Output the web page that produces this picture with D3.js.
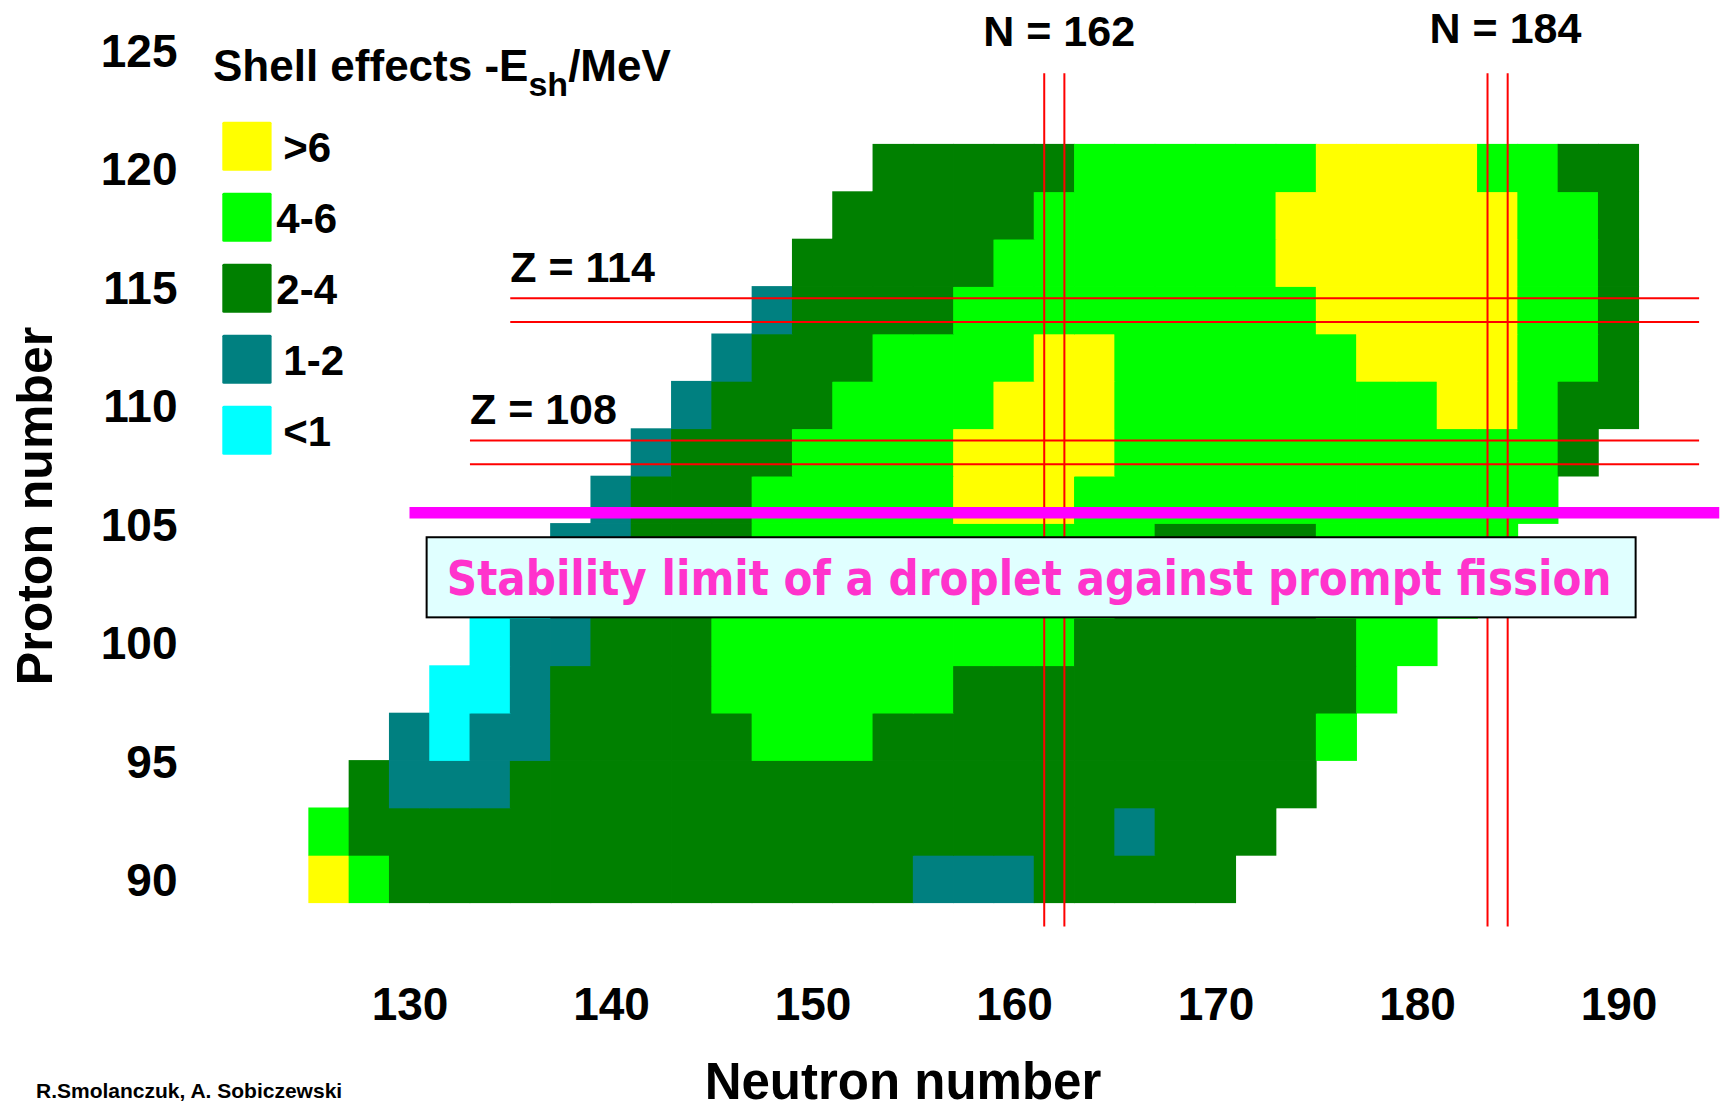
<!DOCTYPE html>
<html>
<head>
<meta charset="utf-8">
<title>Shell effects of superheavy nuclei</title>
<script src="https://cdn.jsdelivr.net/npm/d3@7"></script>
<style>
  html, body { margin: 0; padding: 0; background: #ffffff; }
  svg { display: block; }
  text { font-family: "Liberation Sans", Arial, sans-serif; font-weight: bold; fill: #000; }
</style>
</head>
<body>
<svg id="chart" width="1727" height="1109"></svg>
<script>
// Even neutron numbers, one column each (left to right)
const neutrons = [126, 128, 130, 132, 134, 136, 138, 140, 142, 144, 146,
                  148, 150, 152, 154, 156, 158, 160, 162, 164, 166, 168,
                  170, 172, 174, 176, 178, 180, 182, 184, 186, 188, 190];

// Even proton numbers, one row each (bottom to top)
const protons = [90, 92, 94, 96, 98, 100, 102, 104, 106, 108, 110, 112, 114, 116, 118, 120];

// Shell-effect band of every even-even nucleus, one string per proton row,
// one character per neutron column (spaces only group the columns by ten):
// 4 = >6 MeV, 3 = 4-6, 2 = 2-4, 1 = 1-2, 0 = <1, "." = no nucleus
const bandRows = [
  "4322222222 2222211122 222....... ...",   // Z = 90
  "3222222222 2222222222 1222...... ...",   // Z = 92
  ".211122222 2222222222 22222..... ...",   // Z = 94
  "..10112222 2333222222 222223.... ...",   // Z = 96
  "...0012222 3333332222 2222223... ...",   // Z = 98
  "....011222 3333333332 22222233.. ...",   // Z = 100
  ".....01222 3333333333 222223333. ...",   // Z = 102
  "......1122 2333333333 3222233333 ...",   // Z = 104
  ".......122 2333334443 3333333333 3..",   // Z = 106
  "........12 2233334444 3333333333 32.",   // Z = 108
  ".........1 2223333444 3333333344 322",   // Z = 110
  ".......... 1222333344 3333334444 332",   // Z = 112
  ".......... .122223333 3333344444 332",   // Z = 114
  ".......... ..22222333 3333444444 332",   // Z = 116
  ".......... ...2222233 3333444444 332",   // Z = 118
  ".......... ....222223 3333344443 322"    // Z = 120
];

// Legend bands, from the strongest shell effect down
const bandCodes  = [4, 3, 2, 1, 0];
const bandLabels = [">6", "4-6", "2-4", "1-2", "<1"];
const bandColors = ["#ffff00", "#00ff00", "#008000", "#008080", "#00ffff"];

// Axis tick labels
const neutronTicks = [130, 140, 150, 160, 170, 180, 190];
const protonTicks  = [90, 95, 100, 105, 110, 115, 120, 125];

// Magic numbers marked by double red lines
const magicNeutrons = [162, 184];
const magicProtons  = [108, 114];

// Proton number of the droplet stability limit against prompt fission
const stabilityLimitZ = 105.45;

const colorOf = new Map(bandCodes.map((c, i) => [c, bandColors[i]]));

const svg = d3.select("#chart");

const x = d3.scaleLinear().domain([130, 190]).range([409.5, 1618.5]);
const y = d3.scaleLinear().domain([90, 125]).range([879, 49.5]);

// ---- nuclide cells ----
const cells = [];
bandRows.forEach((row, r) => {
  const codes = row.replace(/ /g, "");
  if (codes.length !== neutrons.length) {
    throw new Error("row Z=" + protons[r] + " has " + codes.length + " columns");
  }
  codes.split("").forEach((ch, c) => {
    if (ch === ".") return;
    cells.push({ N: neutrons[c], Z: protons[r], band: +ch });
  });
});

svg.append("g").attr("class", "cells")
  .selectAll("rect")
  .data(cells)
  .join("rect")
  .attr("x", d => x(d.N - 1) - 0.4)
  .attr("y", d => y(d.Z + 1) - 0.4)
  .attr("width", d => x(d.N + 1) - x(d.N - 1) + 0.8)
  .attr("height", d => y(d.Z - 1) - y(d.Z + 1) + 0.8)
  .attr("fill", d => colorOf.get(d.band));

// ---- magic-number guide lines ----
const guides = svg.append("g").attr("class", "magic")
  .attr("stroke", "#ff0000").attr("stroke-width", 2);

magicProtons.forEach(z => {
  const startN = z === 114 ? 135 : 133;
  [z - 0.5, z + 0.5].forEach(v => {
    guides.append("line")
      .attr("x1", x(startN)).attr("x2", x(194))
      .attr("y1", y(v)).attr("y2", y(v));
  });
});

magicNeutrons.forEach(n => {
  [n - 0.5, n + 0.5].forEach(v => {
    guides.append("line")
      .attr("x1", x(v)).attr("x2", x(v))
      .attr("y1", y(124)).attr("y2", y(88));
  });
});

// magic-number captions
svg.append("text").attr("x", x(135)).attr("y", y(114.5) - 16)
  .attr("font-size", 43).text("Z = 114");
svg.append("text").attr("x", x(133)).attr("y", y(108.5) - 17)
  .attr("font-size", 43).text("Z = 108");
svg.append("text").attr("x", x(162) - 71).attr("y", 46)
  .attr("font-size", 43).text("N = 162");
svg.append("text").attr("x", x(184) - 68).attr("y", 43)
  .attr("font-size", 43).text("N = 184");

// ---- droplet stability limit ----
svg.append("line")
  .attr("x1", x(130)).attr("x2", x(195))
  .attr("y1", y(stabilityLimitZ)).attr("y2", y(stabilityLimitZ))
  .attr("stroke", "#ff00ff").attr("stroke-width", 11.5);

const boxL = x(130.85), boxR = x(190.85), boxT = y(104.42), boxB = y(101.04);
svg.append("rect")
  .attr("x", boxL).attr("y", boxT)
  .attr("width", boxR - boxL).attr("height", boxB - boxT)
  .attr("fill", "#e0ffff").attr("stroke", "#000").attr("stroke-width", 2);

// caption squeezed horizontally to the width of its box
const caption = svg.append("text")
  .attr("x", 0).attr("y", 0)
  .attr("text-anchor", "middle")
  .attr("font-size", 48)
  .style("font-family", "'DejaVu Sans', Verdana, sans-serif")
  .style("fill", "#ff33cc")
  .text("Stability limit of a droplet against prompt fission");
const captionWidth = caption.node().getComputedTextLength();
const squeeze = Math.min(1, 1165 / captionWidth);
caption.attr("transform",
  `translate(${(boxL + boxR) / 2 - 2},${boxT + 58}) scale(${squeeze},1)`);

// ---- axes ----
const xAxis = svg.append("g")
  .attr("transform", "translate(0,1020)")
  .call(d3.axisBottom(x).tickValues(neutronTicks).tickSize(0).tickPadding(0).tickFormat(d3.format("d")));
xAxis.select(".domain").remove();
xAxis.selectAll("text")
  .attr("dy", 0).attr("y", 0)
  .attr("font-size", 46)
  .style("font-family", "'Liberation Sans', Arial, sans-serif")
  .style("font-weight", "bold").style("fill", "#000");
xAxis.attr("font-family", null).attr("font-size", null);

const yAxis = svg.append("g")
  .attr("transform", "translate(177.5,0)")
  .call(d3.axisLeft(y).tickValues(protonTicks).tickSize(0).tickPadding(0).tickFormat(d3.format("d")));
yAxis.select(".domain").remove();
yAxis.selectAll("text")
  .attr("dy", "0.36em")
  .attr("font-size", 46)
  .style("font-family", "'Liberation Sans', Arial, sans-serif")
  .style("font-weight", "bold").style("fill", "#000");
yAxis.attr("font-family", null).attr("font-size", null);

svg.append("text")
  .attr("transform", "translate(52,506) rotate(-90)")
  .attr("text-anchor", "middle")
  .attr("font-size", 50)
  .text("Proton number");

svg.append("text")
  .attr("x", 903).attr("y", 1099)
  .attr("text-anchor", "middle")
  .attr("font-size", 51)
  .text("Neutron number");

svg.append("text")
  .attr("x", 36).attr("y", 1098)
  .attr("font-size", 21)
  .text("R.Smolanczuk, A. Sobiczewski");

// ---- legend ----
const title = svg.append("text").attr("x", 213).attr("y", 81).attr("font-size", 44);
title.append("tspan").text("Shell effects -E");
title.append("tspan").attr("font-size", 34).attr("dy", 15).text("sh");
title.append("tspan").attr("dy", -15).text("/MeV");

// labels with a dash sit a little closer to their swatch
const labelInset = label => (label.includes("-") && label !== "1-2") ? 54 : 61;

const legend = svg.append("g").attr("class", "legend")
  .selectAll("g")
  .data(bandLabels.map((label, i) => ({ label, color: bandColors[i], i })))
  .join("g")
  .attr("transform", d => `translate(222.3,${121.7 + d.i * 71})`);

legend.append("rect")
  .attr("width", 49.3).attr("height", 49).attr("rx", 1.5)
  .attr("fill", d => d.color);

legend.append("text")
  .attr("x", d => labelInset(d.label)).attr("y", 40)
  .attr("font-size", 42)
  .text(d => d.label);
</script>
</body>
</html>
